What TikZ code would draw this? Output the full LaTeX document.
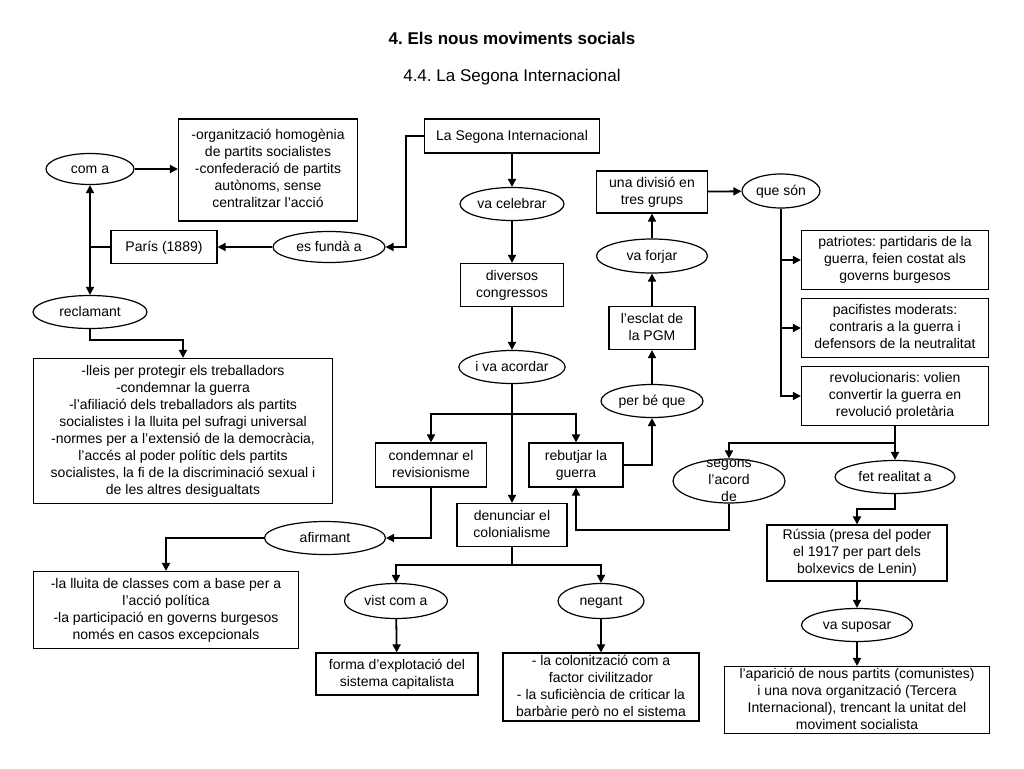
\documentclass[tikz,border=0pt]{standalone}
\usepackage{fontspec}
\setmainfont{Liberation Sans}
\frenchspacing
\usetikzlibrary{arrows.meta,shapes.geometric}
\newcommand\tstrut{\rule[-3pt]{0pt}{15.7pt}}
\tikzset{bx/.append style={draw,rectangle,line width=1.2pt,align=center,inner sep=1pt,execute at begin node=\tstrut,execute at end node=\tstrut}}
\tikzset{el/.append style={draw,ellipse,line width=1.2pt,inner sep=1pt,execute at begin node=\tstrut,execute at end node=\tstrut}}
\tikzset{ln/.append style={line width=1.8pt}}
\tikzset{ar/.append style={ln,-{Triangle[length=8pt,width=8pt]}}}

\begin{document}
\begin{tikzpicture}[x=1pt,y=-1pt,font=\fontsize{14}{17}\selectfont]
                \useasboundingbox (0,0) rectangle (1024,768);
                % titols
                \node[font=\fontsize{17}{20}\selectfont\bfseries] (tit) at (512,38) {4. Els nous moviments socials};
                \node[font=\fontsize{17}{20}\selectfont] (subtit) at (512,77) {4.4. La Segona Internacional};
                % columna esquerra
                \node[el,minimum width=88pt,minimum height=31pt] (coma) at (90,169) {com a};
                \node[bx,minimum width=179pt,minimum height=102pt] (organ) at (268,170) {-organització homogènia\\de partits socialistes\\-confederació de partits\\autònoms, sense\\centralitzar l’acció};
                \node[bx,minimum width=106pt,minimum height=33pt] (paris) at (164,247) {París (1889)};
                \node[el,minimum width=112pt,minimum height=31pt] (funda) at (329,247) {es fundà a};
                \node[el,minimum width=114pt,minimum height=33pt] (reclam) at (90,312) {reclamant};
                \node[bx,minimum width=299pt,minimum height=145pt] (lleis) at (183,431) {-lleis per protegir els treballadors\\-condemnar la guerra\\-l’afiliació dels treballadors als partits\\socialistes i la lluita pel sufragi universal\\-normes per a l’extensió de la democràcia,\\l’accés al poder polític dels partits\\socialistes, la fi de la discriminació sexual i\\de les altres desigualtats};
                \node[el,minimum width=121pt,minimum height=33pt] (afirm) at (325,538) {afirmant};
                \node[bx,minimum width=265pt,minimum height=77pt] (lluita) at (166,610) {-la lluita de classes com a base per a\\l’acció política\\-la participació en governs burgesos\\només en casos excepcionals};
                % columna central
                \node[bx,minimum width=175pt,minimum height=34pt] (lsi) at (512,136) {La Segona Internacional};
                \node[el,minimum width=104pt,minimum height=33pt] (celebrar) at (512,204) {va celebrar};
                \node[bx,minimum width=103pt,minimum height=43pt] (congr) at (512,285) {diversos\\congressos};
                \node[el,minimum width=104pt,minimum height=33pt] (acordar) at (512,367) {i va acordar};
                \node[bx,minimum width=111pt,minimum height=44pt] (condem) at (431,465) {condemnar el\\revisionisme};
                \node[bx,minimum width=94pt,minimum height=44pt] (rebut) at (576,465) {rebutjar la\\guerra};
                \node[bx,minimum width=110pt,minimum height=43pt] (denun) at (512,525) {denunciar el\\colonialisme};
                \node[el,minimum width=103pt,minimum height=35pt] (vist) at (396,601) {vist com a};
                \node[el,minimum width=86pt,minimum height=35pt] (negant) at (601,601) {negant};
                \node[bx,minimum width=162pt,minimum height=42pt] (forma) at (397,674) {forma d’explotació del\\sistema capitalista};
                \node[bx,minimum width=196pt,minimum height=68pt] (colon) at (601,687) {- la colonització com a\\factor civilitzador\\- la suficiència de criticar la\\barbàrie però no el sistema};
                % columna dreta
                \node[el,minimum width=102pt,minimum height=33pt] (perbe) at (652,401) {per bé que};
                \node[bx,minimum width=86pt,minimum height=43pt] (esclat) at (652,328) {l’esclat de\\la PGM};
                \node[el,minimum width=111pt,minimum height=34pt] (forjar) at (652,256) {va forjar};
                \node[bx,minimum width=111pt,minimum height=42pt] (divisio) at (652,192) {una divisió en\\tres grups};
                \node[el,minimum width=78pt,minimum height=34pt] (queson) at (781,191) {que són};
                \node[bx,minimum width=187pt,minimum height=59pt] (patri) at (895,260) {patriotes: partidaris de la\\guerra, feien costat als\\governs burgesos};
                \node[bx,minimum width=187pt,minimum height=59pt] (pacif) at (895,328) {pacifistes moderats:\\contraris a la guerra i\\defensors de la neutralitat};
                \node[bx,minimum width=187pt,minimum height=59pt] (revol) at (895,396) {revolucionaris: volien\\convertir la guerra en\\revolució proletària};
                \node[el,minimum width=112pt,minimum height=44pt,label={[align=center]center:segons\\l’acord\\de}] (segons) at (729,481) {};
                \node[el,minimum width=120pt,minimum height=33pt] (fet) at (895,477) {fet realitat a};
                \node[bx,minimum width=180pt,minimum height=56pt] (russia) at (857,553) {Rússia (presa del poder\\el 1917 per part dels\\bolxevics de Lenin)};
                \node[el,minimum width=111pt,minimum height=33pt] (suposar) at (857,625) {va suposar};
                \node[bx,minimum width=265pt,minimum height=67pt] (aparicio) at (857,700) {l’aparició de nous partits (comunistes)\\i una nova organització (Tercera\\Internacional), trencant la unitat del\\moviment socialista};
                % punts d'unio
                \coordinate (j1) at (90,247);
                \coordinate (b1) at (512,414);
                \coordinate (b2) at (512,565);
                \coordinate (b3) at (895,443);
                % connectors
                \draw[ar] (lsi.west) -- ++(-18,0) |- (funda.east);
                \draw[ar] (funda) -- (paris);
                \draw[ln] (paris.west) -- (j1);
                \draw[ar] (j1) -- (coma.south);
                \draw[ar] (j1) -- (reclam.north);
                \draw[ar] (coma.east) -- (coma.east -| organ.west);
                \draw[ar] (reclam.south) -- ++(0,11) -| (lleis.north);
                \draw[ar] (lsi) -- (celebrar);
                \draw[ar] (celebrar) -- (congr);
                \draw[ar] (congr) -- (acordar);
                \draw[ar] (acordar) -- (denun);
                \draw[ar] (b1) -| (condem.north);
                \draw[ar] (b1) -| (rebut.north);
                \draw[ar] (condem.south) |- (afirm.east);
                \draw[ar] (afirm.west) -| (lluita.north);
                \draw[ln] (denun.south) -- (b2);
                \draw[ar] (b2) -| (vist.north);
                \draw[ar] (b2) -| (negant.north);
                \draw[ar] (vist) -- (forma);
                \draw[ar] (negant) -- (colon);
                \draw[ar] (rebut.east) -| (perbe.south);
                \draw[ar] (perbe) -- (esclat);
                \draw[ar] (esclat) -- (forjar);
                \draw[ar] (forjar) -- (divisio);
                \draw[ar] (divisio) -- (queson);
                \draw[ar] (queson.south) |- (patri.west);
                \draw[ar] (queson.south) |- (pacif.west);
                \draw[ar] (queson.south) |- (revol.west);
                \draw[ar] (revol) -- (fet);
                \draw[ar] (b3) -| (segons.north);
                \draw[ar] (segons.south) -- ++(0,26) -| (rebut.south);
                \draw[ar] (fet.south) -- ++(0,15) -| (russia.north);
                \draw[ar] (russia) -- (suposar);
                \draw[ar] (suposar) -- (aparicio);
            \end{tikzpicture}
\end{document}
